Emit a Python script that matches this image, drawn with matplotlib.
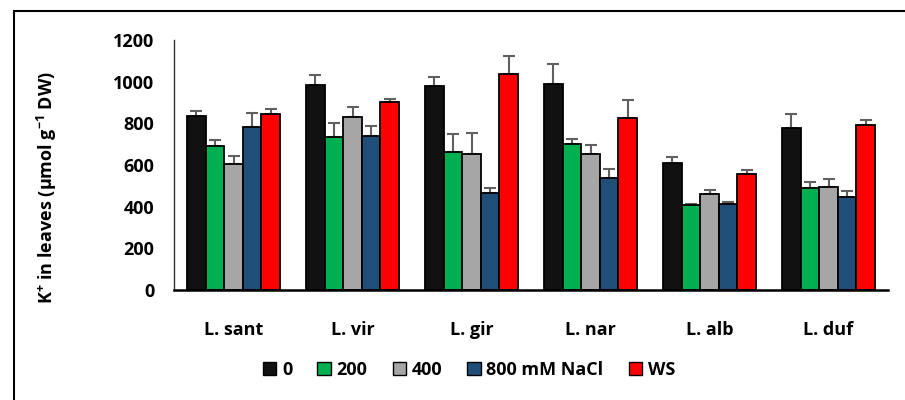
import numpy as np
import matplotlib.pyplot as plt
from matplotlib.patches import Rectangle

species = ["L. sant", "L. vir", "L. gir", "L. nar", "L. alb", "L. duf"]
series = ["0", "200", "400", "800 mM NaCl", "WS"]
colors = ["#111111", "#00B050", "#A6A6A6", "#1F4E79", "#FF0000"]

# K+ means and SE (µmol g-1 DW)
k_0 = [837, 984, 979, 987, 610, 776]
k_200 = [690, 736, 664, 699, 408, 490]
k_400 = [605, 832, 654, 654, 459, 494]
k_800 = [781, 739, 467, 539, 414, 445]
k_ws = [843, 901, 1037, 826, 559, 794]

err_0 = [22, 50, 45, 98, 30, 71]
err_200 = [28, 66, 85, 27, 5, 27]
err_400 = [37, 45, 100, 43, 21, 40]
err_800 = [70, 48, 25, 40, 7, 32]
err_ws = [27, 17, 88, 86, 19, 24]

values = [k_0, k_200, k_400, k_800, k_ws]
errors = [err_0, err_200, err_400, err_800, err_ws]

FONT = "Open Sans"
FS = 13
plt.rcParams["font.family"] = [FONT, "DejaVu Sans"]
plt.rcParams["font.weight"] = "bold"
plt.rcParams["mathtext.fontset"] = "custom"
plt.rcParams["mathtext.rm"] = FONT + ":bold"
plt.rcParams["mathtext.bf"] = FONT + ":bold"
plt.rcParams["mathtext.default"] = "bf"

fig = plt.figure(figsize=(9.05, 4.0), dpi=100)
ax = fig.add_axes([174 / 905, 1 - 290 / 400, (888 - 174) / 905, 250 / 400])

x = np.arange(len(species))
w = 0.156
for i, (vals, errs) in enumerate(zip(values, errors)):
    pos = x + (i - 2) * w
    ax.bar(pos, vals, width=w, color=colors[i], edgecolor="black",
           linewidth=1.3, label=series[i], zorder=2)
    ax.errorbar(pos, vals, yerr=[np.zeros(len(errs)), errs], fmt="none",
                ecolor="#606060", elinewidth=1.5, capsize=4.5, capthick=1.5,
                zorder=1)

ax.set_xlim(-0.5, len(species) - 0.5)
ax.set_ylim(0, 1200)
ax.set_yticks(range(0, 1201, 200))
ax.set_xticks(x)
ax.set_xticklabels(species, fontsize=FS, fontweight="bold")
ax.tick_params(axis="y", length=0, pad=14, labelsize=FS)
ax.tick_params(axis="x", length=0, pad=22)
for lab in ax.get_yticklabels():
    lab.set_fontweight("bold")

for s in ["top", "right"]:
    ax.spines[s].set_visible(False)
ax.spines["left"].set_linewidth(1.0)
ax.spines["left"].set_color("#333333")
ax.spines["bottom"].set_linewidth(1.8)
ax.spines["bottom"].set_color("black")

fig.text(47 / 905, 1 - 188 / 400, "K$^{+}$ in leaves (µmol g$^{-1}$ DW)",
         rotation=90, ha="center", va="center", fontsize=FS, fontweight="bold")

leg = fig.legend(loc="center", bbox_to_anchor=(469 / 905, 1 - 370 / 400), ncol=5,
                 frameon=False, fontsize=FS, handlelength=0.75, handleheight=0.75,
                 handletextpad=0.3, columnspacing=1.4)
for h in leg.legend_handles:
    h.set_linewidth(1.0)

# outer frame of the figure, cut off at right and bottom
fig.patches.append(Rectangle((14 / 905, -0.1), 1.2, 1 - 11 / 400 + 0.1,
                             transform=fig.transFigure, fill=False,
                             edgecolor="black", linewidth=1.5))

fig.savefig("out.png", dpi=100)
